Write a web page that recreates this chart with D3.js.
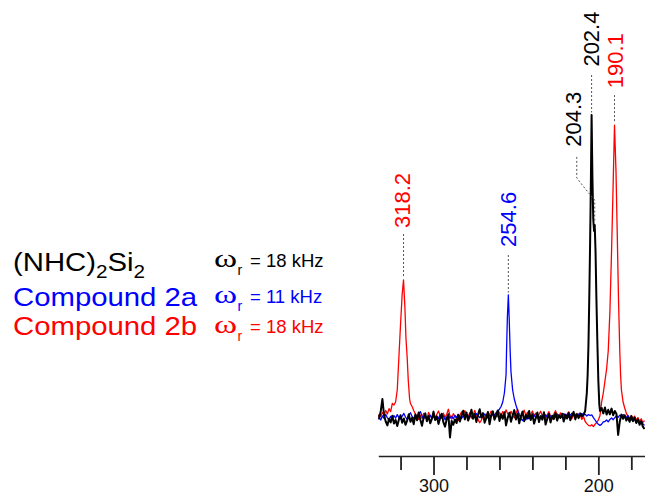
<!DOCTYPE html>
<html><head><meta charset="utf-8">
<script src="https://cdn.jsdelivr.net/npm/d3@7"></script>
<style>html,body{margin:0;padding:0;background:#fff;}svg{display:block;}</style>
</head><body>
<svg id="chart" width="645" height="496"></svg>
<script>
// ---------- DATA ----------
const seriesNames = ["(NHC)2Si2", "Compound 2a", "Compound 2b"];
const spinRates = ["18", "11", "18"];
const tickValues = [320, 300, 280, 260, 240, 220, 200, 180];
const tickLabels = {300: "300", 200: "200"};

// [ppm, intensity]
const blackData = [[334,0.8],[333,-0.5],[332,2.0],[331,6.0],[330,0.5],[329,-1.5],[328,-2.8],[327,-0.6],[326,-1.8],[325,0.4],[324,-2.2],[323,-1.0],[322,-3.0],[321,-0.8],[320,0.6],[319,-1.9],[318,-0.5],[317,-2.6],[316,-1.2],[315,0.9],[314,-1.6],[313,-0.3],[312,-2.4],[311,0.8],[310,-1.1],[309,1.5],[308,-0.9],[307,-2.9],[306,-0.2],[305,1.2],[304,-1.4],[303,0.3],[302,-2.1],[301,-0.6],[300,1.8],[299,-1.0],[298,0.2],[297,-2.3],[296,-0.4],[295,1.1],[294,-1.8],[293,-3.2],[292,-0.7],[291,0.9],[290,-6.8],[289,-1.3],[288,-2.6],[287,-0.8],[286,-2.0],[285,0.7],[284,-1.5],[283,0.4],[282,2.1],[281,-0.8],[280,1.5],[279,-1.2],[278,0.3],[277,2.4],[276,-0.6],[275,1.0],[274,-1.7],[273,0.8],[272,2.6],[271,-0.2],[270,1.3],[269,-1.9],[268,-0.4],[267,1.7],[266,-2.4],[265,0.6],[264,1.9],[263,-0.9],[262,0.4],[261,2.2],[260,-1.3],[259,0.9],[258,-0.6],[257,1.6],[256,-2.8],[255,-0.3],[254,1.4],[253,-1.6],[252,0.5],[251,2.3],[250,-0.8],[249,1.2],[248,-2.1],[247,0.2],[246,1.8],[245,-1.4],[244,0.7],[243,-0.5],[242,2.0],[241,-1.0],[240,0.9],[239,-2.2],[238,-0.4],[237,1.5],[236,-1.7],[235,0.3],[234,-0.9],[233,1.6],[232,-2.5],[231,-0.6],[230,1.0],[229,-1.8],[228,0.4],[227,-0.7],[226,1.3],[225,-1.2],[224,0.6],[223,-0.3],[222,1.1],[221,-1.5],[220,0.8],[219,-0.5],[218,1.4],[217,-1.1],[216,0.5],[215,1.7],[214,-0.8],[213,0.9],[212,-0.4],[211,1.2],[210,0.2],[209,0.8],[208,2.0],[207,8],[206.5,14],[206,24],[205.5,40],[205,58],[204.5,80],[204.1,100.7],[203.6,80],[203.1,66],[202.6,62],[202.2,64],[201.7,55],[201.2,40],[200.6,25],[200,12],[199.4,4],[199,2.0],[198,3.0],[197,1.2],[196,3.2],[195,0.8],[194,2.4],[193,0.9],[192,2.8],[191,0.6],[190,2.0],[189,1.0],[188,-6.0],[187,-1.5],[186,0.8],[185,-0.6],[184,0.6],[183,-1.2],[182,-0.2],[181,-1.6],[180,0.3],[179,-1.4],[178,-0.2],[177,-2.0],[176,-0.8],[175,-2.6],[174,-1.4],[173,-3.2],[172,-4.0]];

const blueData = [[334,-0.8],[333,-0.2],[332,-1.0],[331,0.4],[330,-0.5],[329,0.9],[328,-0.3],[327,-0.9],[326,0.2],[325,-0.6],[324,0.5],[323,-0.4],[322,0.8],[321,-0.2],[320,-0.7],[319,0.3],[318,1.2],[317,0.0],[316,-0.8],[315,0.6],[314,1.4],[313,0.2],[312,-0.5],[311,0.7],[310,-0.3],[309,0.9],[308,1.8],[307,0.4],[306,-0.6],[305,0.3],[304,-1.0],[303,-0.2],[302,0.6],[301,-0.5],[300,0.2],[299,-0.8],[298,0.1],[297,-0.4],[296,0.7],[295,-0.3],[294,0.4],[293,-0.9],[292,-0.1],[291,0.6],[290,-0.4],[289,0.3],[288,-0.6],[287,0.5],[286,-0.2],[285,0.9],[284,0.1],[283,-0.5],[282,0.4],[281,-0.3],[280,0.6],[279,-0.1],[278,0.8],[277,0.2],[276,-0.4],[275,0.5],[274,1.1],[273,0.3],[272,-0.2],[271,0.7],[270,0.1],[269,1.0],[268,0.4],[267,-0.3],[266,0.6],[265,0.2],[264,1.2],[263,0.5],[262,1.5],[261,2.0],[260,2.6],[259,3.5],[258,5.0],[257,8.0],[256,14],[255.7,22],[255.2,33],[254.6,40.7],[254.1,33],[253.5,22],[253,15],[252,9],[251,6],[250,4],[249,2.2],[248,0.8],[247,-0.5],[246,-1.2],[245,-0.4],[244,-0.9],[243,0.2],[242,-0.6],[241,0.4],[240,-0.3],[239,0.6],[238,-0.2],[237,0.8],[236,0.1],[235,-0.5],[234,0.5],[233,-0.2],[232,0.7],[231,0.0],[230,0.9],[229,0.2],[228,-0.4],[227,0.6],[226,0.1],[225,1.0],[224,0.3],[223,-0.3],[222,0.5],[221,1.1],[220,0.2],[219,0.8],[218,-0.1],[217,0.6],[216,1.3],[215,0.4],[214,0.9],[213,0.2],[212,1.0],[211,0.5],[210,1.2],[209,0.6],[208,0.9],[207,0.3],[206,0.8],[205,0.5],[204,0.7],[203,-0.2],[202,-1.0],[201,-1.8],[200,-2.4],[199,-2.8],[198,-2.4],[197,-1.6],[196,-1.5],[195,-1.0],[194,-1.6],[193,-0.8],[192,-0.3],[191,-0.9],[190,-0.2],[189,0.4],[188,-0.1],[187,0.6],[186,0.2],[185,0.8],[184,0.3],[183,-0.2],[182,0.5],[181,-0.4],[180,-0.8],[179,-1.3],[178,-0.6],[177,-1.5],[176,-1.0],[175,-1.9],[174,-1.4],[173,-2.2],[172,-2.8]];

const redData = [[334,-0.5],[333,0.8],[332,0.2],[331,1.5],[330,0.6],[329,2.2],[328,1.0],[327,2.8],[326,1.8],[325,4.5],[324,4.0],[323,5.0],[322,9],[321,20],[320,31],[319,41],[318.2,45.7],[317.4,37],[316.7,26],[316,20],[315.3,12],[314.5,6],[314,4.5],[313,3.5],[312,2.2],[311,1.0],[310,0.3],[309,-0.8],[308,0.6],[307,-0.4],[306,1.2],[305,0.2],[304,-0.9],[303,1.5],[302,0.4],[301,-0.3],[300,1.0],[299,-0.6],[298,0.8],[297,2.0],[296,0.5],[295,-0.4],[294,1.3],[293,-0.2],[292,0.9],[291,2.6],[290,0.4],[289,-0.7],[288,1.1],[287,0.3],[286,-0.5],[285,-1.2],[284,0.6],[283,1.7],[282,0.8],[281,2.1],[280,1.0],[279,0.2],[278,1.4],[277,-0.4],[276,0.7],[275,2.2],[274,0.5],[273,-0.8],[272,-1.9],[271,-1.1],[270,0.3],[269,-0.5],[268,1.0],[267,-0.2],[266,0.9],[265,2.0],[264,0.6],[263,-0.4],[262,1.2],[261,0.1],[260,1.6],[259,0.4],[258,1.8],[257,0.7],[256,2.4],[255,1.1],[254,0.3],[253,1.9],[252,0.6],[251,-0.3],[250,1.2],[249,2.6],[248,0.8],[247,-0.2],[246,1.0],[245,2.3],[244,0.5],[243,1.6],[242,-0.5],[241,0.8],[240,2.0],[239,0.4],[238,1.3],[237,-0.6],[236,0.9],[235,1.9],[234,0.2],[233,1.1],[232,-0.4],[231,0.7],[230,1.8],[229,0.3],[228,-0.7],[227,0.9],[226,2.1],[225,0.6],[224,-0.3],[223,1.4],[222,0.2],[221,1.0],[220,-0.6],[219,0.8],[218,1.7],[217,0.1],[216,-0.5],[215,0.9],[214,0.3],[213,1.2],[212,-0.2],[211,0.6],[210,-0.8],[209,0.2],[208,-1.5],[207,-2.2],[206,-2.8],[205,-3.0],[204,-2.6],[203,-3.2],[202,-2.4],[201,-1.8],[200,-1.0],[199,0.5],[198,5],[197,8],[196,12],[195,16],[194,22],[193,35],[192,55],[191,78],[190.2,97.3],[189.3,82],[188.5,60],[187.8,40],[187,22],[186.5,14],[186,9],[185,5],[184,3],[183,1.2],[182,0.2],[181,-0.6],[180,0.5],[179,-0.4],[178,0.3],[177,-1.0],[176,-0.2],[175,-1.4],[174,-0.6],[173,-1.8],[172,-1.2]];

// peak annotations
const annTexts = ["318.2", "254.6", "204.3", "202.4", "190.1"];
const annSeries = [2, 1, 0, 0, 2];
const annLabelPpm = [319.3, 254.6, 215.1, 204.2, 190.05];
const annLabelBottom = [63, 56.7, 90.1, 116.8, 109.6];
// leader polylines [ppm, intensity]
const annLeaders = [
  [[318.2, 61], [318.2, 46.5]],
  [[254.6, 54], [254.6, 41.5]],
  [[213.1, 86.7], [213.1, 79.7], [206.4, 75], [202.2, 72.3], [202.2, 65]],
  [[204.1, 114], [204.1, 101.5]],
  [[190.2, 107.3], [190.2, 98]]
];

// ---------- CHART ----------
const colors = ["#000000", "#0000ff", "#ff0000"];
const widths = [2, 1.3, 1.3];
const svg = d3.select("#chart");
const x = d3.scaleLinear().domain([333.5, 171.7]).range([378.3, 645]);
const y = d3.scaleLinear().domain([0, 100]).range([417, 117]);

svg.append("defs").append("clipPath").attr("id", "clip")
  .append("rect").attr("x", 378.3).attr("y", 0).attr("width", 270).attr("height", 455);

const line = d3.line().x(d => x(d[0])).y(d => y(d[1]));
const allData = [blackData, blueData, redData];
const plot = svg.append("g").attr("clip-path", "url(#clip)");
[2, 1, 0].forEach(i => {
  plot.append("path").datum(allData[i])
    .attr("d", line).attr("fill", "none")
    .attr("stroke", colors[i]).attr("stroke-width", widths[i])
    .attr("stroke-linejoin", "round");
});

// leaders
const leaderLine = d3.line().x(d => x(d[0])).y(d => y(d[1]));
svg.append("g").selectAll("path").data(annLeaders).join("path")
  .attr("d", leaderLine).attr("fill", "none")
  .attr("stroke", "#555").attr("stroke-width", 1).attr("stroke-dasharray", "2,2");

// labels
svg.append("g").selectAll("text").data(annTexts).join("text")
  .attr("transform", (d, i) => `translate(${x(annLabelPpm[i])},${y(annLabelBottom[i])}) rotate(-90)`)
  .attr("dy", "0.36em")
  .attr("text-anchor", "start")
  .attr("font-family", "Liberation Sans, Arial, sans-serif")
  .attr("font-size", 22)
  .attr("fill", (d, i) => colors[annSeries[i]])
  .text(d => d);

// axis
const axis = d3.axisBottom(x).tickValues(tickValues).tickSize(14).tickSizeOuter(0)
  .tickFormat(d => tickLabels[d] || "");
const ax = svg.append("g").attr("transform", "translate(0,456)").call(axis);
ax.select(".domain").attr("stroke", "#222").attr("stroke-width", 1.5);
ax.selectAll(".tick line").attr("stroke", "#222").attr("stroke-width", 1.8)
  .attr("y2", d => tickLabels[d] ? 19 : 14);
ax.selectAll(".tick text").attr("font-family", "Liberation Sans, Arial, sans-serif")
  .attr("font-size", 18).attr("fill", "#111").attr("y", 23).attr("dy", "0.71em");

// legend
const legendBase = [271, 306, 335];
const omegaBase = [267, 303, 333];
const leg = svg.append("g").attr("font-family", "Liberation Sans, Arial, sans-serif");
seriesNames.forEach((name, i) => {
  const g = leg.append("g").attr("transform", `translate(13,${legendBase[i]}) scale(1.15,1)`);
  const t = g.append("text").attr("font-size", 25.5).attr("fill", colors[i]);
  if (i === 0) {
    t.append("tspan").text("(NHC)");
    t.append("tspan").attr("font-size", 18).attr("dy", 7).text("2");
    t.append("tspan").attr("dy", -7).text("Si");
    t.append("tspan").attr("font-size", 18).attr("dy", 7).text("2");
  } else {
    t.text(name);
  }
  leg.append("text").attr("transform", `translate(214,${omegaBase[i]}) scale(1.35,1)`)
    .attr("font-family", "Liberation Serif, Times New Roman, serif")
    .attr("font-size", 26).attr("fill", colors[i]).text("ω");
  leg.append("text").attr("x", 237.5).attr("y", omegaBase[i] + 8)
    .attr("font-size", 14).attr("fill", colors[i]).text("r");
  leg.append("text").attr("x", 250).attr("y", omegaBase[i])
    .attr("font-size", 18.5).attr("fill", colors[i]).text("= " + spinRates[i] + " kHz");
});
</script>
</body></html>
